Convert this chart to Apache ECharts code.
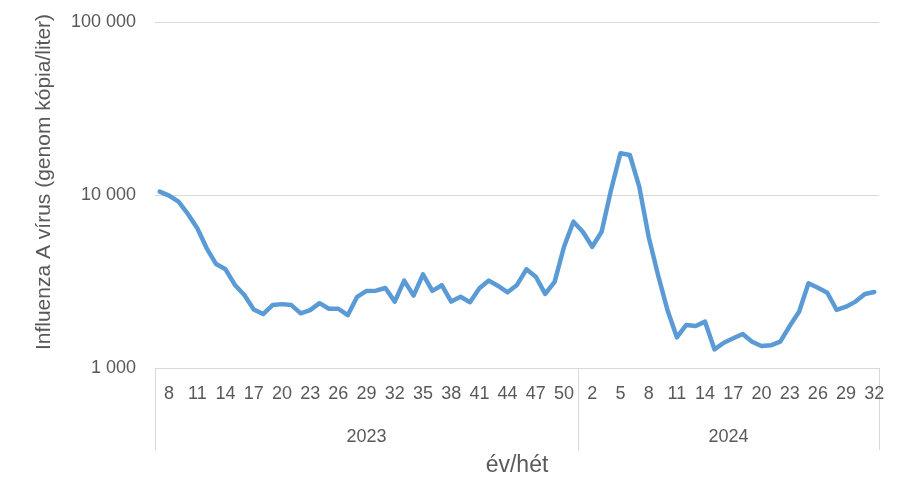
<!DOCTYPE html>
<html>
<head>
<meta charset="utf-8">
<script src="https://cdn.jsdelivr.net/npm/echarts@6/dist/echarts.min.js"></script>
<style>
html,body{margin:0;padding:0;background:#fff;}
#chart{width:897px;height:501px;}
</style>
</head>
<body>
<div id="chart"></div>
<script>
// 2023 weeks 7..51, 2024 weeks 1..32
var years = ['2023', '2024'];
var weeks2023 = [7,8,9,10,11,12,13,14,15,16,17,18,19,20,21,22,23,24,25,26,27,28,29,30,31,32,33,34,35,36,37,38,39,40,41,42,43,44,45,46,47,48,49,50,51];
var weeks2024 = [1,2,3,4,5,6,7,8,9,10,11,12,13,14,15,16,17,18,19,20,21,22,23,24,25,26,27,28,29,30,31,32];
var values2023 = [10450,9910,9150,7770,6420,4920,3990,3720,3020,2640,2180,2050,2310,2340,2310,2070,2160,2370,2200,2200,2020,2580,2790,2800,2900,2420,3200,2620,3480,2790,3010,2420,2580,2400,2890,3200,2980,2740,3020,3720,3370,2680,3150,5020,7010];
var values2024 = [6130,5020,6130,10690,17420,17030,11170,5740,3450,2165,1504,1773,1748,1853,1282,1400,1485,1572,1419,1340,1352,1419,1748,2115,3090,2910,2723,2165,2260,2420,2680,2750];
var yTicks = [1000, 10000, 100000];

var categories = [];
weeks2023.forEach(function(w){ categories.push(years[0] + '-' + w); });
weeks2024.forEach(function(w){ categories.push(years[1] + '-' + w); });
var values = values2023.concat(values2024);
var n1 = weeks2023.length, n2 = weeks2024.length, total = n1 + n2;

var FONT = '"Liberation Sans", Arial, sans-serif';
var GRAY = '#595959';
var LINE = '#d9d9d9';

function fmtNum(v){
  return String(Math.round(v)).replace(/\B(?=(\d{3})+(?!\d))/g, ' ');
}

var chart = echarts.init(document.getElementById('chart'), null, {renderer:'canvas'});
chart.setOption({
  animation: false,
  backgroundColor: '#fff',
  grid: {left: 155, right: 18, top: 22, bottom: 133, containLabel: false, outerBoundsMode: 'none'},
  xAxis: [{
    type: 'category',
    data: categories,
    boundaryGap: true,
    axisLine: {show: true, lineStyle: {color: LINE, width: 1}},
    axisTick: {show: false},
    axisLabel: {
      interval: function(i){ return i % 3 === 1; },
      formatter: function(v){ return v.split('-')[1]; },
      color: GRAY, fontFamily: FONT, fontSize: 18, margin: 17
    },
    splitLine: {show: false}
  }, {
    type: 'value',
    position: 'bottom',
    min: -0.5,
    max: total - 0.5,
    axisLine: {show: false},
    axisTick: {
      show: true, length: 82,
      customValues: [-0.5, n1 - 0.5, total - 0.5],
      lineStyle: {color: LINE, width: 1}
    },
    axisLabel: {
      customValues: [(n1 - 1) / 2, n1 + (n2 - 1) / 2],
      formatter: function(v){ return v < n1 - 0.5 ? years[0] : years[1]; },
      color: GRAY, fontFamily: FONT, fontSize: 18, margin: 60
    },
    splitLine: {show: false},
    name: 'év/hét',
    nameLocation: 'middle',
    nameGap: 86,
    nameTextStyle: {color: GRAY, fontFamily: FONT, fontSize: 23}
  }],
  yAxis: {
    type: 'log',
    logBase: 10,
    min: yTicks[0],
    max: yTicks[yTicks.length - 1],
    axisLine: {show: false},
    axisTick: {show: false},
    axisLabel: {
      formatter: fmtNum,
      color: GRAY, fontFamily: FONT, fontSize: 18, margin: 19
    },
    splitLine: {show: true, lineStyle: {color: LINE, width: 1}},
    name: 'Influenza A vírus (genom kópia/liter)',
    nameLocation: 'middle',
    nameRotate: 90,
    nameGap: 100,
    nameTextStyle: {color: GRAY, fontFamily: FONT, fontSize: 21, padding: [0, 0, 0, 26]}
  },
  series: [{
    type: 'line',
    xAxisIndex: 0,
    data: values,
    showSymbol: false,
    symbol: 'none',
    smooth: false,
    lineStyle: {color: '#5B9BD5', width: 4.5, join: 'round', cap: 'round'},
    itemStyle: {color: '#5B9BD5'}
  }]
});
</script>
</body>
</html>
